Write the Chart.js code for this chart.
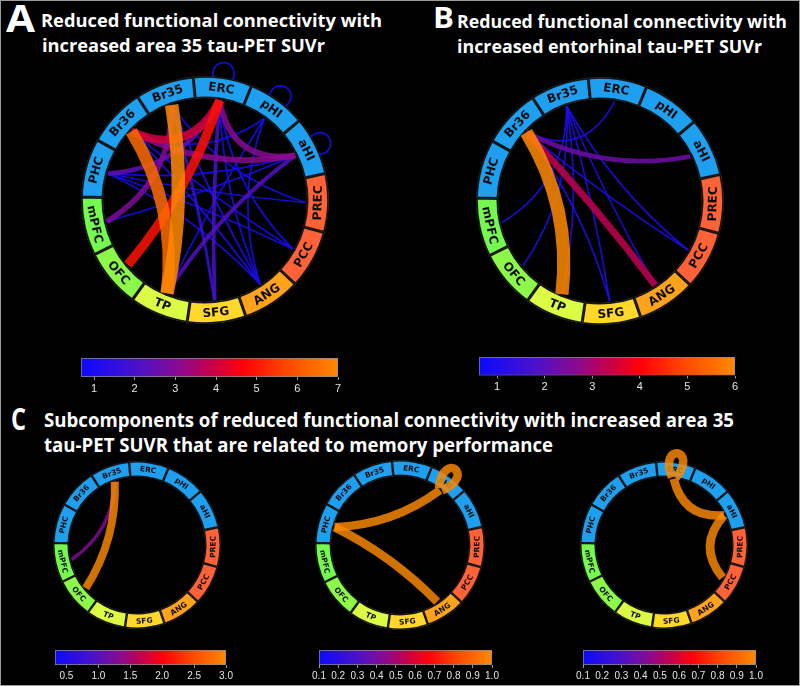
<!DOCTYPE html>
<html>
<head>
<meta charset="utf-8">
<script src="https://cdn.jsdelivr.net/npm/chart.js@4.4.1/dist/chart.umd.min.js"></script>
<style>
  html, body { margin: 0; padding: 0; background: #000; }
  #fig { position: relative; width: 800px; height: 686px; background: #000; overflow: hidden; }
  #fig canvas { position: absolute; }
  .t { position: absolute; white-space: nowrap; color: #fff; font-family: 'Open Sans', sans-serif;
       font-weight: 700; line-height: 1; transform-origin: 0 0; }
  #frame { position: absolute; left: 0; top: 0; width: 800px; height: 686px; box-sizing: border-box;
           border: 1px solid #9c9c9c; pointer-events: none; }
</style>
</head>
<body>
<div id="fig">
  <div class="t" style="left:6px;top:-2px;font-size:38px" data-w="29">A</div>
  <div class="t" style="left:41px;top:11px;font-size:18px" data-w="341">Reduced functional connectivity with</div>
  <div class="t" style="left:42px;top:36px;font-size:18px" data-w="283">increased area 35 tau-PET SUVr</div>

  <div class="t" style="left:433px;top:3px;font-size:28px" data-w="21">B</div>
  <div class="t" style="left:457px;top:12px;font-size:18px" data-w="330">Reduced functional connectivity with</div>
  <div class="t" style="left:457px;top:37px;font-size:18px" data-w="305">increased entorhinal tau-PET SUVr</div>

  <div class="t" style="left:11px;top:403px;font-size:31px" data-w="15">C</div>
  <div class="t" style="left:44px;top:410px;font-size:19.5px" data-w="690">Subcomponents of reduced functional connectivity with increased area 35</div>
  <div class="t" style="left:44px;top:435px;font-size:19.5px" data-w="509">tau-PET SUVR that are related to memory performance</div>

  <canvas id="ringA" width="330" height="330" style="left:40px;top:35px"></canvas>
  <canvas id="ringB" width="330" height="330" style="left:435px;top:36px"></canvas>
  <canvas id="ringC1" width="230" height="230" style="left:22px;top:430px"></canvas>
  <canvas id="ringC2" width="230" height="230" style="left:285px;top:430px"></canvas>
  <canvas id="ringC3" width="230" height="230" style="left:549px;top:430px"></canvas>

  <canvas id="barA" width="297" height="50" style="left:61px;top:350px"></canvas>
  <canvas id="barB" width="296" height="49" style="left:459px;top:349px"></canvas>
  <canvas id="barC1" width="201" height="38" style="left:40px;top:644px"></canvas>
  <canvas id="barC2" width="203" height="38" style="left:304px;top:644px"></canvas>
  <canvas id="barC3" width="203" height="38" style="left:568px;top:644px"></canvas>
  <div id="frame"></div>
</div>
<script>
// nodes, clockwise from the top
const regions = ['ERC', 'pHI', 'aHI', 'PREC', 'PCC', 'ANG', 'SFG', 'TP', 'OFC', 'mPFC', 'PHC', 'Br36', 'Br35'];

// connections: [from, to, value]
const edgesA = [
  ['Br35', 'TP', 7.0], ['Br36', 'TP', 6.4], ['ERC', 'OFC', 4.9], ['ERC', 'Br36', 4.1],
  ['ERC', 'aHI', 3.0], ['Br36', 'aHI', 3.1], ['mPFC', 'Br35', 2.9], ['PHC', 'ERC', 2.4],
  ['aHI', 'TP', 2.2], ['ERC', 'SFG', 2.0], ['Br35', 'SFG', 1.6],
  ['ANG', 'Br35', 1.1], ['ANG', 'Br36', 1.1], ['ANG', 'PHC', 1.0], ['ANG', 'ERC', 1.0], ['ANG', 'pHI', 1.0],
  ['PCC', 'PHC', 1.0], ['PCC', 'Br36', 1.0], ['PREC', 'PHC', 1.0], ['PREC', 'Br35', 1.0],
  ['aHI', 'mPFC', 1.0], ['aHI', 'PHC', 1.0], ['pHI', 'Br36', 1.0], ['pHI', 'TP', 1.0], ['PCC', 'ERC', 1.0],
  ['ERC', 'ERC', 1.0], ['pHI', 'pHI', 1.0], ['aHI', 'aHI', 1.0]
];
const edgesB = [
  ['Br36', 'TP', 6.0], ['Br36', 'ANG', 3.3], ['Br36', 'aHI', 2.3], ['ERC', 'Br36', 1.0],
  ['Br35', 'mPFC', 1.0], ['Br35', 'OFC', 1.0], ['Br35', 'TP', 1.0], ['Br35', 'SFG', 1.0],
  ['Br35', 'ANG', 1.0], ['Br35', 'PCC', 1.0], ['Br36', 'PCC', 1.0], ['Br36', 'SFG', 1.0]
];
const edgesC1 = [['Br35', 'OFC', 3.0], ['mPFC', 'Br35', 1.3]];
const edgesC2 = [['PHC', 'pHI', 1.0], ['PHC', 'ANG', 1.0], ['pHI', 'pHI', 1.0]];
const edgesC3 = [['ERC', 'aHI', 1.0], ['aHI', 'PCC', 1.0], ['ERC', 'ERC', 1.0]];

// colour bar ranges and tick labels
const rangeA = [0.68, 7.0];
const ticksA = [1, 2, 3, 4, 5, 6, 7];
const rangeB = [0.62, 6.0];
const ticksB = [1, 2, 3, 4, 5, 6];
const rangeC1 = [0.32, 3.0];
const ticksC1 = [0.5, 1.0, 1.5, 2.0, 2.5, 3.0];
const rangeC2 = [0.1, 1.0];
const ticksC2 = [0.1, 0.2, 0.3, 0.4, 0.5, 0.6, 0.7, 0.8, 0.9, 1.0];
const rangeC3 = [0.1, 1.0];
const ticksC3 = [0.1, 0.2, 0.3, 0.4, 0.5, 0.6, 0.7, 0.8, 0.9, 1.0];

const ringColors = ['#1e9ff0', '#1e9ff0', '#1e9ff0', '#ff6236', '#ff6236', '#ffa21c', '#ffd829',
                    '#dcfb45', '#8cf94a', '#74f94e', '#1e9ff0', '#1e9ff0', '#1e9ff0'];

// blue -> purple -> red -> orange
const cmapStops = [[0, '#0a0aff'], [0.22, '#4a12c8'], [0.38, '#8a0a90'], [0.5, '#c2004e'],
                   [0.63, '#ff0008'], [0.8, '#ff4800'], [1, '#ff8a00']];

function hexRgb(h) { return [1, 3, 5].map(i => parseInt(h.substr(i, 2), 16)); }

function cmap(t, alpha) {
  t = Math.min(1, Math.max(0, t));
  for (let k = 1; k < cmapStops.length; k++) {
    const [p1, c1] = cmapStops[k];
    if (t <= p1) {
      const [p0, c0] = cmapStops[k - 1];
      const f = (t - p0) / (p1 - p0);
      const a = hexRgb(c0), b = hexRgb(c1);
      const c = a.map((v, i) => Math.round(v + (b[i] - v) * f));
      return 'rgba(' + c.join(',') + ',' + alpha + ')';
    }
  }
}

Chart.defaults.animation = false;
Chart.defaults.events = [];

// draws the region names and the connection curves on top of the ring
function chordLayer(edges, range, st) {
  return {
    id: 'chords',
    afterDatasetsDraw(chart) {
      const ctx = chart.ctx;
      const arcs = chart.getDatasetMeta(0).data;
      const cx = arcs[0].x, cy = arcs[0].y;
      const ro = arcs[0].outerRadius, ri = arcs[0].innerRadius;
      const ang = arcs.map(a => (a.startAngle + a.endAngle) / 2);
      const pt = (r, a) => [cx + r * Math.cos(a), cy + r * Math.sin(a)];
      // u = radial, v = tangential offset around the node direction a
      const loc = (u, v, a) => [cx + u * Math.cos(a) - v * Math.sin(a), cy + u * Math.sin(a) + v * Math.cos(a)];

      ctx.save();
      ctx.fillStyle = '#0d0d0d';
      ctx.font = '700 ' + st.labelSize + 'px "DejaVu Sans"';
      ctx.textAlign = 'center';
      ctx.textBaseline = 'middle';
      regions.forEach((name, i) => {
        const [x, y] = pt((ro + ri) / 2, ang[i]);
        ctx.save();
        ctx.translate(x, y);
        ctx.rotate(Math.sin(ang[i]) > 0.01 ? ang[i] - Math.PI / 2 : ang[i] + Math.PI / 2);
        ctx.fillText(name, 0, 0.5);
        ctx.restore();
      });

      ctx.lineCap = 'butt';
      edges.slice().sort((a, b) => a[2] - b[2]).forEach(([f, t, v]) => {
        const i = regions.indexOf(f), j = regions.indexOf(t);
        ctx.strokeStyle = cmap((v - range[0]) / (range[1] - range[0]), st.alpha);
        ctx.lineWidth = Math.max(1, st.lw * v + st.lo);
        ctx.beginPath();
        if (i === j) {
          const r0 = st.loopInner ? ri : ro - 1;
          const a = ang[i];
          const p0 = loc(r0, -st.loopFoot, a), p3 = loc(r0, st.loopFoot, a);
          const c1 = loc(ro + st.loopOut, -st.loopSpread, a), c2 = loc(ro + st.loopOut, st.loopSpread, a);
          ctx.moveTo(p0[0], p0[1]);
          ctx.bezierCurveTo(c1[0], c1[1], c2[0], c2[1], p3[0], p3[1]);
        } else {
          const p0 = pt(ri - 1, ang[i]), p1 = pt(ri - 1, ang[j]);
          const qx = cx + st.bend * ((p0[0] + p1[0]) / 2 - cx);
          const qy = cy + st.bend * ((p0[1] + p1[1]) / 2 - cy);
          ctx.moveTo(p0[0], p0[1]);
          ctx.quadraticCurveTo(qx, qy, p1[0], p1[1]);
        }
        ctx.stroke();
      });
      ctx.restore();
    }
  };
}

function makeRing(id, edges, range, st) {
  new Chart(document.getElementById(id), {
    type: 'doughnut',
    data: {
      labels: regions,
      datasets: [{
        data: regions.map(() => 1),
        backgroundColor: ringColors,
        borderColor: '#151515',
        borderWidth: st.bw,
        borderAlign: 'inner'
      }]
    },
    options: {
      responsive: false,
      rotation: -5.5,
      cutout: st.cutout,
      layout: { padding: st.pad },
      plugins: { legend: { display: false }, tooltip: { enabled: false } }
    },
    plugins: [chordLayer(edges, range, st)]
  });
}

function barGradient(chart) {
  const a = chart.chartArea;
  if (!a) return '#0a0aff';
  const g = chart.ctx.createLinearGradient(a.left, 0, a.right, 0);
  cmapStops.forEach(([p, c]) => g.addColorStop(p, c));
  return g;
}

function makeColorbar(id, range, ticks, dec, size, pad) {
  new Chart(document.getElementById(id), {
    type: 'bar',
    data: {
      labels: [''],
      datasets: [{
        data: [range],
        backgroundColor: c => barGradient(c.chart),
        borderColor: '#8c8c8c',
        borderWidth: 1,
        borderSkipped: false,
        barPercentage: 1,
        categoryPercentage: 1
      }]
    },
    options: {
      indexAxis: 'y',
      responsive: false,
      layout: { padding: pad },
      plugins: { legend: { display: false }, tooltip: { enabled: false } },
      scales: {
        x: {
          type: 'linear',
          min: range[0],
          max: range[1],
          afterBuildTicks: s => { s.ticks = ticks.map(v => ({ value: v })); },
          border: { display: false },
          grid: { drawOnChartArea: false, drawTicks: true, tickLength: 3, color: '#9a9a9a' },
          ticks: {
            color: '#e6e6e6',
            padding: 2,
            maxRotation: 0,
            autoSkip: false,
            font: { family: "'Liberation Sans Narrow', 'Liberation Sans', sans-serif", size: size },
            callback: v => Number(v).toFixed(dec)
          }
        },
        y: { display: false }
      }
    }
  });
}

const bigRing = { bw: 1.5, cutout: '82%', pad: 41, labelSize: 12, alpha: 0.85, bend: 0.5,
                  loopInner: false, loopFoot: 10, loopOut: 20, loopSpread: 15 };
makeRing('ringA', edgesA, rangeA, Object.assign({}, bigRing, { lw: 1.95, lo: -0.2 }));
makeRing('ringB', edgesB, rangeB, Object.assign({}, bigRing, { lw: 2.3, lo: -0.6 }));

const smallRing = { bw: 1.2, cutout: '81%', pad: 31, labelSize: 7.5, alpha: 0.82, bend: 0.55,
                    loopInner: true, loopFoot: 2, loopOut: 17, loopSpread: 21 };
makeRing('ringC1', edgesC1, rangeC1, Object.assign({}, smallRing, { lw: 2.6, lo: 0.2 }));
makeRing('ringC2', edgesC2, rangeC2, Object.assign({}, smallRing, { pad: 30, lw: 8.5, lo: 0 }));
makeRing('ringC3', edgesC3, rangeC3, Object.assign({}, smallRing, { lw: 8.5, lo: 0 }));

makeColorbar('barA', rangeA, ticksA, 0, 11, { left: 20, right: 20, top: 8, bottom: 4 });
makeColorbar('barB', rangeB, ticksB, 0, 11, { left: 20, right: 20, top: 8, bottom: 4 });
makeColorbar('barC1', rangeC1, ticksC1, 1, 10, { left: 15, right: 15, top: 6, bottom: 2 });
makeColorbar('barC2', rangeC2, ticksC2, 1, 10, { left: 15, right: 15, top: 6, bottom: 2 });
makeColorbar('barC3', rangeC3, ticksC3, 1, 10, { left: 15, right: 15, top: 6, bottom: 2 });

// squeeze each title line to the width it has in the figure
document.querySelectorAll('.t').forEach(el => {
  const w = el.getBoundingClientRect().width;
  el.style.transform = 'scaleX(' + (Number(el.dataset.w) / w) + ')';
});
</script>
</body>
</html>
